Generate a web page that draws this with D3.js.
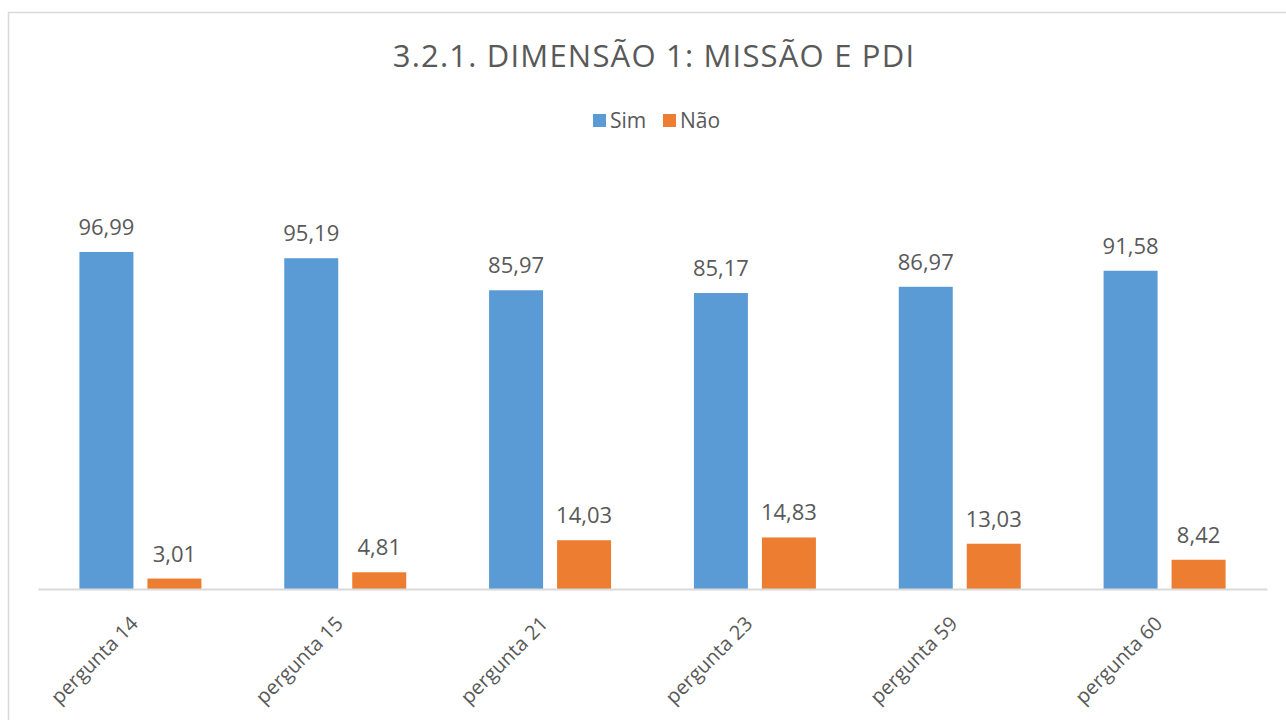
<!DOCTYPE html>
<html>
<head>
<meta charset="utf-8">
<script src="https://cdn.jsdelivr.net/npm/d3@7"></script>
<style>
  html, body { margin: 0; padding: 0; background: #fff; }
  svg { display: block; }
  text { font-family: "Open Sans", "Noto Sans", sans-serif; fill: #595959; }
</style>
</head>
<body>
<script>
const categories = ["pergunta 14", "pergunta 15", "pergunta 21", "pergunta 23", "pergunta 59", "pergunta 60"];
const seriesNames = ["Sim", "Não"];
const simValues = [96.99, 95.19, 85.97, 85.17, 86.97, 91.58];
const naoValues = [3.01, 4.81, 14.03, 14.83, 13.03, 8.42];
const valueLabelsSim = ["96,99", "95,19", "85,97", "85,17", "86,97", "91,58"];
const valueLabelsNao = ["3,01", "4,81", "14,03", "14,83", "13,03", "8,42"];
const colors = ["#5B9BD5", "#ED7D31"];
const title = "3.2.1. DIMENSÃO 1: MISSÃO E PDI";

const W = 1286, H = 720;
const svg = d3.select("body").append("svg").attr("width", W).attr("height", H);

// chart border
svg.append("rect").attr("x", 8.5).attr("y", 12.5).attr("width", W + 10).attr("height", H + 10)
  .attr("fill", "none").attr("stroke", "#D9D9D9").attr("stroke-width", 1.5);

const plotLeft = 38, plotRight = 1267, baseY = 589;
const x0 = d3.scaleBand().domain(categories).range([plotLeft, plotRight]).paddingInner(0).paddingOuter(0);
const barW = 54, innerGap = 14;
const x1 = d3.scaleOrdinal().domain(seriesNames).range([-(barW + innerGap / 2), innerGap / 2]);
const y = d3.scaleLinear().domain([0, 120]).range([baseY, baseY - 120 * 3.475]);

const data = categories.map((c, i) => ({
  cat: c,
  vals: [
    { s: "Sim", v: simValues[i], lab: valueLabelsSim[i], color: colors[0] },
    { s: "Não", v: naoValues[i], lab: valueLabelsNao[i], color: colors[1] }
  ]
}));

const groups = svg.selectAll("g.grp").data(data).join("g")
  .attr("class", "grp")
  .attr("transform", d => `translate(${x0(d.cat) + x0.bandwidth() / 2},0)`);

groups.selectAll("rect").data(d => d.vals).join("rect")
  .attr("x", d => x1(d.s))
  .attr("y", d => y(d.v))
  .attr("width", barW)
  .attr("height", d => y(0) - y(d.v))
  .attr("fill", d => d.color);

groups.selectAll("text.val").data(d => d.vals).join("text")
  .attr("class", "val")
  .attr("x", d => x1(d.s) + barW / 2)
  .attr("y", d => y(d.v) - 17)
  .attr("text-anchor", "middle")
  .attr("font-size", 22)
  .text(d => d.lab);

// baseline axis
const xAxis = d3.axisBottom(x0).tickSize(0).tickPadding(0);
const ax = svg.append("g").attr("transform", `translate(0,${baseY})`).call(xAxis);
ax.select(".domain").attr("stroke", "#D9D9D9").attr("stroke-width", 2);
ax.selectAll(".tick text")
  .attr("font-family", null)
  .attr("font-size", 20)
  .attr("fill", "#595959")
  .attr("text-anchor", "end")
  .attr("y", 0)
  .attr("dy", 0)
  .attr("transform", "translate(-1,36) rotate(-45)");

// title
svg.append("text").attr("x", 654).attr("y", 67).attr("text-anchor", "middle")
  .attr("font-size", 31).attr("letter-spacing", 1.2).text(title);

// legend
const legend = svg.append("g").attr("transform", "translate(593,114)");
const legItems = [{ name: seriesNames[0], color: colors[0], x: 0 }, { name: seriesNames[1], color: colors[1], x: 70 }];
const li = legend.selectAll("g").data(legItems).join("g").attr("transform", d => `translate(${d.x},0)`);
li.append("rect").attr("width", 13).attr("height", 13).attr("fill", d => d.color);
li.append("text").attr("x", 17).attr("y", 13.5).attr("font-size", 21).text(d => d.name);
</script>
</body>
</html>
